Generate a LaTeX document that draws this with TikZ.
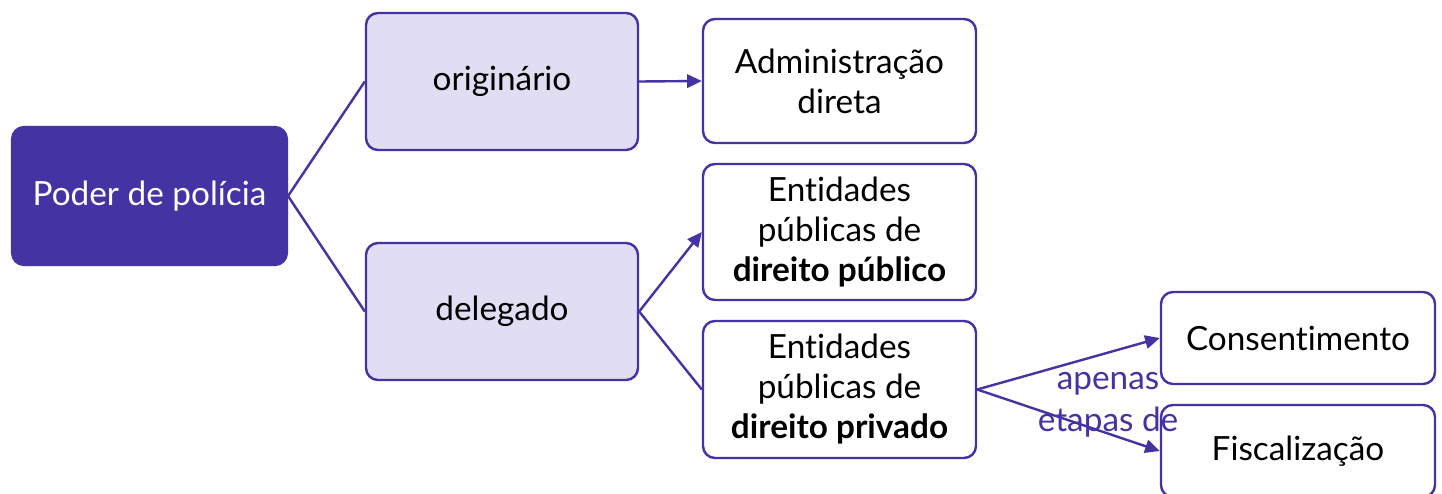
\documentclass[tikz,border=0pt]{standalone}
\usepackage{fontspec}
\setmainfont{Lato}[Ligatures=NoCommon]
\usetikzlibrary{arrows.meta}
\definecolor{ink}{HTML}{4433A3}
\definecolor{lav}{HTML}{E1DDF3}
\tikzset{
  box/.style={draw=ink, line width=1.8pt, rounded corners=9pt, align=center,
    inner sep=0pt, font=\fontsize{25}{30}\selectfont},
  rootbox/.style={box, fill=ink, text=white},
  midbox/.style={box, fill=lav, text=black},
  leafbox/.style={box, fill=white, text=black},
  link/.style={draw=ink, line width=1.8pt},
  arrowlink/.style={link, -{Triangle[length=11pt,width=10pt]}},
  lbl/.style={text=ink, align=center, inner sep=0pt, font=\fontsize{25}{31.5}\selectfont}
}
\begin{document}
\begin{tikzpicture}[x=0.75pt, y=-0.75pt]
\useasboundingbox (0,0) rectangle (1442,493);
\begin{scope}
\clip (0,0) rectangle (1442,493);
\node[rootbox, minimum width=206pt, minimum height=103.5pt] (poder) at (149.5,196) {Poder de polícia};
\node[midbox, minimum width=204pt, minimum height=102.75pt] (orig) at (502,81.5) {originário};
\node[midbox, minimum width=204pt, minimum height=102.75pt] (deleg) at (502,311.5) {delegado};
\node[leafbox, minimum width=204.75pt, minimum height=93pt] (admin) at (839.5,81) {Administração\\direta};
\node[leafbox, minimum width=204.75pt, minimum height=102pt] (dpub) at (839.5,232) {Entidades\\públicas de\\\textbf{direito público}};
\node[leafbox, minimum width=204.75pt, minimum height=102.75pt] (dpriv) at (839.5,389.5) {Entidades\\públicas de\\\textbf{direito privado}};
\node[leafbox, minimum width=205.5pt, minimum height=69pt] (cons) at (1298,338) {Consentimento};
\node[leafbox, minimum width=205.5pt, minimum height=69pt] (fisc) at (1298,451) {Fiscalização};
\draw[link] (poder.east) -- (orig.west);
\draw[link] (poder.east) -- (deleg.west);
\draw[arrowlink] (orig.east) -- (admin.west);
\draw[arrowlink] (deleg.east) -- (dpub.west);
\draw[link] (deleg.east) -- (dpriv.west);
\draw[arrowlink] (dpriv.east) -- (cons.west);
\draw[arrowlink] (dpriv.east) -- (fisc.west);
\node[lbl] (note) at (1108,405) {apenas\\etapas de};
\end{scope}
\end{tikzpicture}
\end{document}
